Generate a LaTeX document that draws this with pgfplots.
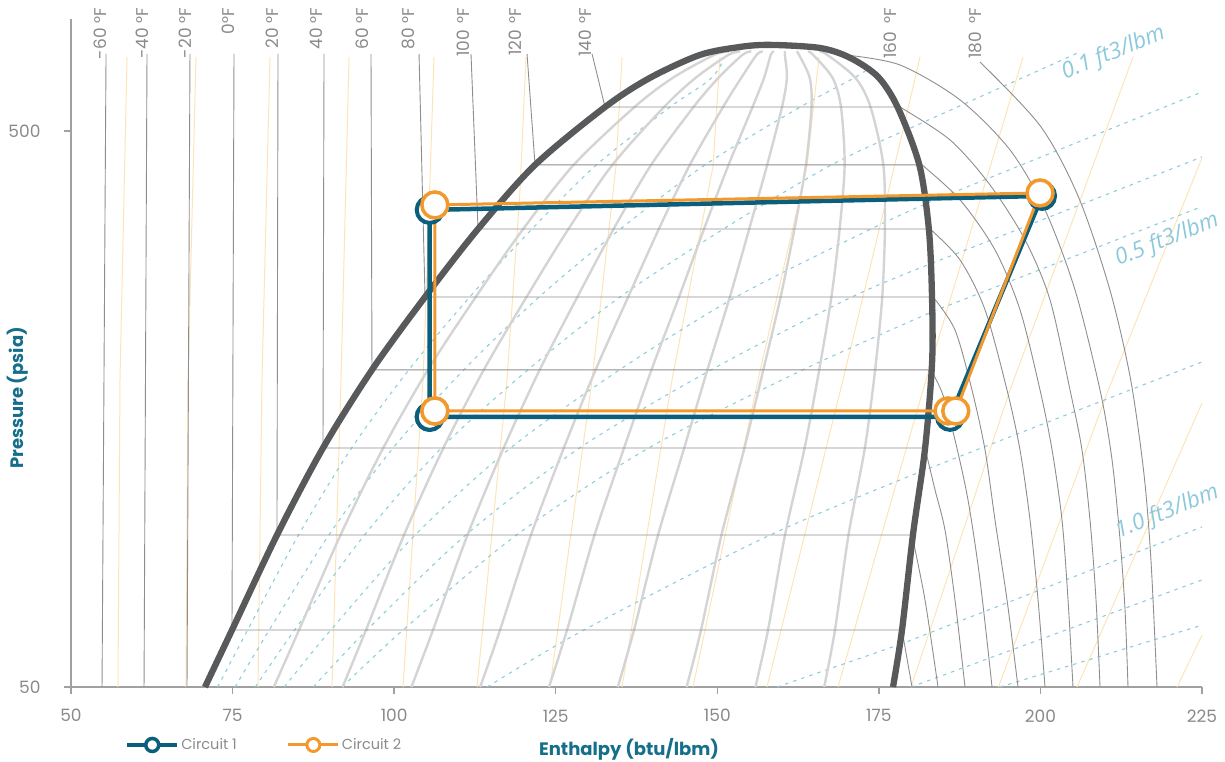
\documentclass[border=0pt]{standalone}
\usepackage{fontspec}
\setmainfont{Poppins}
\newfontfamily\volfont{Open Sans}
\usepackage{pgfplots}
\pgfplotsset{compat=1.18}

\definecolor{dome}{HTML}{58595B}
\definecolor{qline}{HTML}{D4D4D4}
\definecolor{tline}{HTML}{8E8E8E}
\definecolor{sline}{HTML}{FDE4B8}
\definecolor{vline}{HTML}{8ECDE0}
\definecolor{vtext}{HTML}{8CC9DD}
\definecolor{cteal}{HTML}{0B5F7C}
\definecolor{corange}{HTML}{F2992E}
\definecolor{labteal}{HTML}{156F8A}
\definecolor{ticktext}{HTML}{8A8A8A}
\definecolor{axisgray}{HTML}{A0A0A0}

\pgfplotsset{
  isotherm/.style={tline, line width=0.9pt, forget plot},
  quality/.style={qline, line width=2.4pt, smooth, forget plot},
  isentrope/.style={sline, line width=1pt, forget plot},
  isochore/.style={vline, line width=1.1pt, dash pattern=on 3.5pt off 5pt, forget plot},
}
\tikzset{
  tlab/.style={rotate=90, anchor=east, font=\fontsize{17}{19}\selectfont, text=ticktext, inner sep=0pt},
  vlab/.style={rotate=22, anchor=center, font=\volfont\itshape\fontsize{22.5}{24}\selectfont, text=vtext, inner sep=0pt},
}

\begin{document}
\begin{tikzpicture}
\begin{axis}[
  scale only axis, width=1131pt, height=668pt,
  xmin=50, xmax=225, ymin=50, ymax=795, ymode=log,
  axis x line*=bottom, axis y line*=left,
  axis line style={axisgray, line width=1.3pt, -},
  xtick={50,75,...,225}, ytick={50,500}, yticklabels={50,500},
  yminorticks=false, xminorticks=false,
  tick style={axisgray, line width=1.3pt},
  tick align=outside, major tick length=7pt,
  tick label style={font=\fontsize{17}{19}\selectfont, text=ticktext},
  xticklabel style={yshift=-12pt},
  yticklabel style={xshift=-20pt},
  /pgf/number format/assume math mode=true,
  clip=false,
  xlabel={Enthalpy (btu/lbm)},
  ylabel={Pressure (psia)},
  label style={font=\bfseries\fontsize{18}{20}\selectfont, text=labteal},
  xlabel style={at={(axis description cs:0.4934,-0.0928)}, anchor=center},
  ylabel style={at={(axis description cs:-0.0469,0.4326)}, anchor=center, rotate=0},
  legend style={at={(axis description cs:0.0478,-0.0868)}, anchor=west, draw=none, fill=none,
    inner sep=0pt, font=\fontsize{14.5}{16}\selectfont, text=ticktext, legend columns=2,
    /tikz/every even column/.append style={column sep=48pt}},
  legend cell align=left,
  legend image code/.code={\draw[mark repeat=2, mark phase=2, #1] plot coordinates {(0pt,0pt) (25pt,0pt) (50pt,0pt)};},
]

% ---- isentropes (light orange) ----
\addplot[isentrope] coordinates {(57.27,50) (57.58,178.3) (58.67,679)};
\addplot[isentrope] coordinates {(67.79,50) (68.10,178.3) (69.34,679)};
\addplot[isentrope] coordinates {(78.94,50) (79.55,178.3) (80.79,679)};
\addplot[isentrope] coordinates {(90.39,50) (91.78,178.3) (93.02,679)};
\addplot[isentrope] coordinates {(101.37,50) (104.47,178.3) (104.93,248.4) (106.17,679)};
\addplot[isentrope] coordinates {(112.82,50) (117.46,178.3) (119.48,391.6) (120.40,679)};
\addplot[isentrope] coordinates {(124.11,50) (130.62,178.3) (134.33,432.6) (135.26,679)};
\addplot[isentrope] coordinates {(135.26,50) (143.00,178.3) (149.34,432.6) (150.42,679)};
\addplot[isentrope] coordinates {(146.24,50) (156.30,178.3) (163.88,432.6) (165.74,679)};
\addplot[isentrope] coordinates {(157.69,50) (169.45,178.3) (178.27,475.8) (181.37,679)};
\addplot[isentrope] coordinates {(168.68,50) (181.83,171.0) (197.31,679)};
\addplot[isentrope] coordinates {(179.98,50) (195.29,171.0) (214.33,679)};
\addplot[isentrope] coordinates {(193.5,50) (210.5,171.0) (225.0,447)};
\addplot[isentrope] coordinates {(205.66,50) (225.0,162.1)};
\addplot[isentrope] coordinates {(221.14,50) (225.0,62.0)};

% ---- isochores (dashed blue): two-phase part, then vapour part ----
\addplot[isochore, smooth] coordinates {(72.69,50) (77.33,63.3) (85.20,93.8) (93.42,134.5) (102.27,185.9) (111.69,251.4) (121.33,333.2) (131.31,434.4) (142.70,552) (149.15,623) (151.5,692)};
\addplot[isochore, smooth] coordinates {(75.38,50) (80.68,63.3) (89.90,93.8) (99.83,134.5) (110.77,185.9) (122.44,251.4) (135.02,333.2) (148.10,434.4) (162.83,552) (171.21,623) (173.2,645)};
\addplot[isochore, smooth] coordinates {(78.51,50) (84.60,63.3) (95.40,93.8) (107.31,134.5) (120.70,185.9) (134.96,251.4) (150.96,333.2) (167.66,434.4) (179.9,506)};
\addplot[isochore] coordinates {(179.9,506) (206.13,693.5)};
\addplot[isochore, smooth] coordinates {(83.00,50) (90.19,63.3) (103.24,93.8) (118.01,134.5) (134.87,185.9) (152.91,251.4) (173.79,333.2) (182.5,371)};
\addplot[isochore] coordinates {(182.5,371) (225,587.6)};
\addplot[isochore, smooth] coordinates {(87.49,50) (95.79,63.3) (111.08,93.8) (128.69,134.5) (149.05,185.9) (170.83,251.4) (183.2,289)};
\addplot[isochore] coordinates {(183.2,289) (225,449)};
\addplot[isochore, smooth] coordinates {(91.97,50) (101.38,63.3) (118.93,93.8) (139.38,134.5) (163.23,185.9) (183.35,236.7)};
\addplot[isochore] coordinates {(183.35,236.7) (225,365.7)};
\addplot[isochore, smooth] coordinates {(114.40,50) (129.35,63.3) (158.16,93.8) (181.5,122)};
\addplot[isochore] coordinates {(181.5,122) (225,192.1)};
\addplot[isochore] coordinates {(159.25,50) (178.2,59.6)};
\addplot[isochore] coordinates {(178.2,59.6) (225,97.0)};
\addplot[isochore] coordinates {(179.98,50) (225,77.9)};
\addplot[isochore] coordinates {(193.74,50) (225,64.6)};

% ---- constant-quality lines ----
\addplot[quality] coordinates {(81.38,50) (85.28,63.3) (91.70,93.8) (98.31,134.5) (105.22,185.9) (112.63,251.4) (119.97,333.2) (127.78,434.4) (137.19,552) (143.12,623) (149.51,685) (151.77,695)};
\addplot[quality] coordinates {(92.02,50) (95.64,63.3) (101.52,93.8) (107.62,134.5) (113.87,185.9) (120.49,251.4) (126.97,333.2) (133.77,434.4) (141.76,552) (146.65,623) (151.70,685) (153.52,695)};
\addplot[quality] coordinates {(102.67,50) (106.01,63.3) (111.35,93.8) (116.94,134.5) (122.52,185.9) (128.35,251.4) (133.96,333.2) (139.76,434.4) (146.32,552) (150.18,623) (153.89,685) (155.28,695)};
\addplot[quality] coordinates {(113.31,50) (116.38,63.3) (121.17,93.8) (126.25,134.5) (131.17,185.9) (136.21,251.4) (140.96,333.2) (145.75,434.4) (150.89,552) (153.71,623) (156.08,685) (157.03,695)};
\addplot[quality] coordinates {(123.96,50) (126.75,63.3) (131.00,93.8) (135.57,134.5) (139.82,185.9) (144.08,251.4) (147.95,333.2) (151.74,434.4) (155.45,552) (157.24,623) (158.27,685) (158.78,695)};
\addplot[quality] coordinates {(134.61,50) (137.11,63.3) (140.83,93.8) (144.88,134.5) (148.47,185.9) (151.94,251.4) (154.94,333.2) (157.72,434.4) (160.01,552) (160.77,623) (160.46,685) (160.53,695)};
\addplot[quality] coordinates {(145.25,50) (147.48,63.3) (150.65,93.8) (154.20,134.5) (157.12,185.9) (159.80,251.4) (161.94,333.2) (163.71,434.4) (164.58,552) (164.30,623) (162.65,685) (162.28,695)};
\addplot[quality] coordinates {(155.90,50) (157.85,63.3) (160.48,93.8) (163.51,134.5) (165.77,185.9) (167.66,251.4) (168.93,333.2) (169.70,434.4) (169.14,552) (167.83,623) (164.84,685) (164.04,695)};
\addplot[quality] coordinates {(166.54,50) (168.21,63.3) (170.30,93.8) (172.83,134.5) (174.42,185.9) (175.52,251.4) (175.93,333.2) (175.69,434.4) (173.71,552) (171.36,623) (167.03,685) (165.79,695)};

% ---- isotherms: liquid + two-phase part ----
\addplot[isotherm] coordinates {(55.42,688) (54.80,50)};
\addplot[isotherm] coordinates {(61.76,688) (61.30,50)};
\addplot[isotherm] coordinates {(68.41,688) (67.95,50)};
\addplot[isotherm] coordinates {(75.22,688) (74.91,63.3) (178.58,63.3)};
\addplot[isotherm] coordinates {(82.03,688) (81.87,93.8) (180.13,93.8)};
\addplot[isotherm] coordinates {(89.15,688) (88.99,134.5) (182.14,134.5)};
\addplot[isotherm] coordinates {(96.42,688) (96.57,185.9) (183.07,185.9)};
\addplot[isotherm] coordinates {(103.85,688) (104.78,251.4) (183.38,251.4)};
\addplot[isotherm] coordinates {(111.89,688) (112.98,333.2) (182.92,333.2)};
\addplot[isotherm] coordinates {(120.56,688) (121.80,434.4) (181.68,434.4)};
\addplot[isotherm] coordinates {(130.62,688) (132.63,552) (178.27,552)};
% ---- isotherms: superheated vapour part ----
\addplot[isotherm] coordinates {(178.58,63.3) (180.13,50)};
\addplot[isotherm, smooth] coordinates {(180.13,93.8) (182.14,71.7) (184.15,50)};
\addplot[isotherm, smooth] coordinates {(182.14,134.5) (183.69,113.1) (185.23,95.8) (186.78,71.7) (188.33,50)};
\addplot[isotherm, smooth] coordinates {(183.07,185.9) (184.92,167.5) (186.78,139.1) (188.79,108.5) (190.65,77.9) (192.51,50)};
\addplot[isotherm, smooth] coordinates {(183.38,251.4) (186.78,219.3) (189.41,171.0) (191.43,133.4) (192.97,99.8) (194.83,71.7) (196.53,50)};
\addplot[isotherm, smooth] coordinates {(182.92,333.2) (187.56,293.0) (191.43,238.3) (194.83,171.0) (196.84,133.4) (198.39,99.8) (199.63,71.7) (200.71,50)};
\addplot[isotherm, smooth] coordinates {(181.68,434.4) (187.56,375.8) (192.97,305.5) (196.84,238.3) (199.94,171.0) (201.80,133.4) (203.34,99.8) (204.27,71.7) (205.04,50)};
\addplot[isotherm, smooth] coordinates {(178.27,552) (186.01,481.7) (192.20,399.8) (197.62,318.4) (201.48,248.4) (204.58,171.0) (206.43,133.4) (207.67,99.8) (208.60,71.7) (209.22,50)};
\addplot[isotherm, smooth] coordinates {(169.76,685) (178.27,657) (187.56,568.5) (195.29,462.2) (200.71,360.5) (205.35,258.8) (209.22,171.0) (211.08,128.0) (212.32,91.9) (213.09,68.8) (213.55,50)};
\addplot[isotherm, smooth] coordinates {(190.65,665) (200.0,510) (205.9,380) (210.7,260) (213.9,180) (216.0,121.3) (217.1,84.6) (218.04,50)};

% ---- saturation dome ----
\addplot[dome, line width=6.3pt, smooth, forget plot] coordinates {
  (70.73,50) (74.91,63.3) (81.87,93.8) (88.99,134.5) (96.57,185.9) (104.78,251.4)
  (112.98,333.2) (121.80,434.4) (132.63,552) (139.59,623) (147.32,685) (153.52,708)
  (158.16,714) (165.89,705) (170.53,677) (174.87,625.5) (177.96,550)
  (181.3,432.6) (182.76,330.5) (183.23,249.4) (183.23,191.3) (182.14,134.0)
  (180.29,94.2) (178.58,63.3) (177.19,50)};

% ---- refrigeration cycles ----
\addplot[cteal, line width=4.5pt, mark=*, mark size=13pt,
  mark options={fill=white, draw=cteal, line width=4pt}, forget plot]
  coordinates {(105.5,153.0) (186.01,153.0) (200.25,382.0) (105.5,360.5) (105.5,153.0)};
\addplot[corange, line width=3pt, mark=*, mark size=13pt,
  mark options={fill=white, draw=corange, line width=3.5pt}, forget plot]
  coordinates {(106.3,156.8) (185.7,156.8) (186.9,156.8) (199.94,386.8) (106.3,368.0) (106.3,156.8)};

\addlegendimage{cteal, line width=4pt, mark=*, mark size=6.5pt, mark options={fill=white, draw=cteal, line width=3.5pt}}
\addlegendentry{Circuit 1}
\addlegendimage{corange, line width=3pt, mark=*, mark size=6.5pt, mark options={fill=white, draw=corange, line width=3pt}}
\addlegendentry{Circuit 2}

% ---- temperature labels along the top ----
\node[tlab] at (axis cs:54.49,832) {-60 °F};
\node[tlab] at (axis cs:60.99,832) {-40 °F};
\node[tlab] at (axis cs:67.64,832) {-20 °F};
\node[tlab] at (axis cs:74.29,832) {0°F};
\node[tlab] at (axis cs:81.10,832) {20 °F};
\node[tlab] at (axis cs:87.91,832) {40 °F};
\node[tlab] at (axis cs:95.03,832) {60 °F};
\node[tlab] at (axis cs:102.15,832) {80 °F};
\node[tlab] at (axis cs:110.66,832) {100\hspace{6pt}°F};
\node[tlab] at (axis cs:118.70,832) {120\hspace{6pt}°F};
\node[tlab] at (axis cs:129.53,832) {140\hspace{6pt}°F};
\node[tlab] at (axis cs:176.73,832) {160\hspace{8pt}°F};
\node[tlab] at (axis cs:189.88,832) {180\hspace{8pt}°F};

% ---- specific volume labels ----
\node[vlab] at (axis cs:211.3,690) {0.1 ft3/lbm};
\node[vlab] at (axis cs:219.6,318.4) {0.5 ft3/lbm};
\node[vlab] at (axis cs:219.6,103.0) {1.0 ft3/lbm};

\end{axis}
\pgfresetboundingbox
\path[use as bounding box] (-71pt,-75pt) rectangle (1154pt,687pt);
\end{tikzpicture}
\end{document}
